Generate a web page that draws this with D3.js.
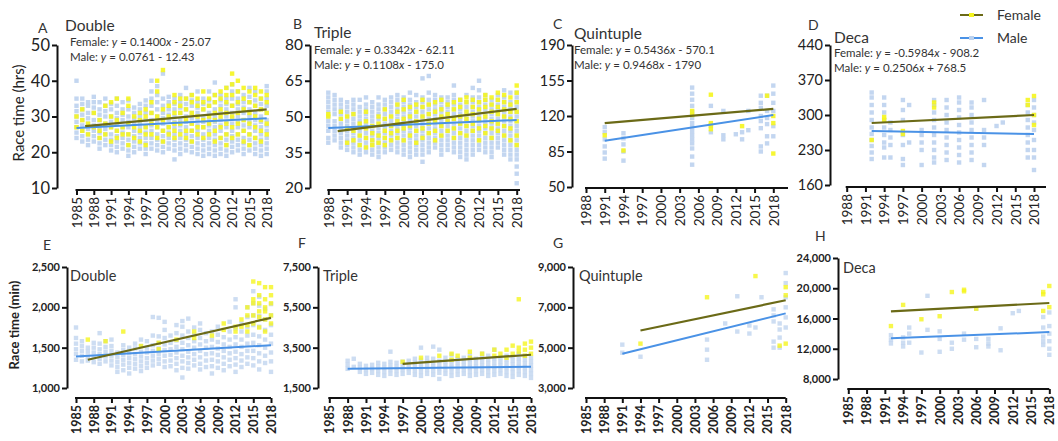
<!DOCTYPE html>
<html>
<head>
<meta charset="utf-8">
<script src="https://cdn.jsdelivr.net/npm/d3@7"></script>
<style>
  body { margin: 0; background: #fff; }
  text { font-family: Lato, "Open Sans", sans-serif; }
</style>
</head>
<body>
<svg id="chart" width="1058" height="441"></svg>
<script>

// ---- tick labels ----
var yearsFrom1985 = [1985, 1988, 1991, 1994, 1997, 2000, 2003, 2006, 2009, 2012, 2015, 2018];
var yearsFrom1988 = [1988, 1991, 1994, 1997, 2000, 2003, 2006, 2009, 2012, 2015, 2018];
var ticksDoubleHrs = [10, 20, 30, 40, 50];
var ticksTripleHrs = [20, 35, 50, 65, 80];
var ticksQuintHrs  = [50, 85, 120, 155, 190];
var ticksDecaHrs   = [160, 230, 300, 370, 440];
var ticksDoubleMin = [1000, 1500, 2000, 2500];
var ticksTripleMin = [1500, 3500, 5500, 7500];
var ticksQuintMin  = [3000, 5000, 7000, 9000];
var ticksDecaMin   = [8000, 12000, 16000, 20000, 24000];

var panelLetters = ["A", "B", "C", "D", "E", "F", "G", "H"];
var panelTitles  = ["Double", "Triple", "Quintuple", "Deca", "Double", "Triple", "Quintuple", "Deca"];
var femaleEquations = ["0.1400x - 25.07", "0.3342x - 62.11", "0.5436x - 570.1", "-0.5984x - 908.2"];
var maleEquations   = ["0.0761 - 12.43", "0.1108x - 175.0", "0.9468x - 1790", "0.2506x + 768.5"];
var seriesNames = ["Female", "Male"];

// ---- trend lines [year, value] ----
var trendDoubleHrsF = [[1986.5, 27.3], [2018, 32.0]];
var trendDoubleHrsM = [[1985, 26.8], [2018, 29.5]];
var trendTripleHrsF = [[1989.5, 43.9], [2018, 53.2]];
var trendTripleHrsM = [[1988, 45.2], [2018, 48.5]];
var trendQuintHrsF  = [[1991, 113], [2018, 127]];
var trendQuintHrsM  = [[1991, 95.5], [2018, 121]];
var trendDecaHrsF   = [[1992, 284], [2018, 300]];
var trendDecaHrsM   = [[1992, 268], [2018, 262]];
var trendDoubleMinF = [[1987, 1350], [2018, 1870]];
var trendDoubleMinM = [[1985, 1390], [2018, 1530]];
var trendTripleMinF = [[1997, 2700], [2018, 3150]];
var trendTripleMinM = [[1988, 2450], [2018, 2550]];
var trendQuintMinF  = [[1994, 5850], [2018, 7350]];
var trendQuintMinM  = [[1991, 4700], [2018, 6700]];
var trendDecaMinF   = [[1992, 16950], [2018, 18050]];
var trendDecaMinM   = [[1992, 13400], [2018, 14200]];

// ---- race times per year [year, [values]] ----
var doubleHrsMale = [
  [1985,[24,25.5,27,28.5,30,31.5,33,35,40]], [1986,[23,24.5,26,27.5,29,30.5,32,33.5,35]],
  [1987,[22,23.5,25,26.5,28,29.5,31,33,34]], [1988,[23,24.5,26,27.5,29,31,32.5,34,35.5]],
  [1989,[21,22.5,24,25.5,27,29,30.5,32,34]], [1990,[22,23.5,25,26.5,28,30,31.5,33,35]],
  [1991,[20.5,22,23.5,25,27,28.5,30,32,33.5]], [1992,[20,21.5,23,24.5,26,28,29.5,31,33,35]],
  [1993,[21,22.5,24,25.5,27,29,30.5,32,34]], [1994,[19,20.5,22,23.5,25,27,28.5,30,32,34.5]],
  [1995,[20,21.5,23,24.5,26,28,29.5,31,32.5]], [1996,[21,22.5,24,25.5,27,28.5,30,32,33.5]],
  [1997,[19.5,21,22.5,24,25.5,27,29,31,33,34.5]], [1998,[21,22.5,24,26,27.5,29,31,33,35,37,40]],
  [1999,[20.5,22,23.5,25,27,28.5,30,32,34,36,38.5]], [2000,[20,21.5,23,24.5,26,28,29.5,31,33,35,42]],
  [2001,[21,22.5,24,25.5,27,29,30.5,32,34,35.5]], [2002,[18,20.5,22,23.5,25,27,28.5,30,32,33.5,35]],
  [2003,[19.5,21,22.5,24,26,27.5,29,31,32.5,34,36]], [2004,[20.5,22,23.5,25,27,28.5,30,32,33.5,35,38]],
  [2005,[20,21.5,23,24.5,26,28,29.5,31,33,34.5,36]], [2006,[19.5,21,22.5,24,26,27.5,29,31,32.5,34,37]],
  [2007,[19,20.5,22,23.5,25,27,28.5,30,32,33.5,35]], [2008,[19.5,21,22.5,24,26,27.5,29,31,33,34.5,37]],
  [2009,[19,20.5,22,23.5,25,27,28.5,30,32,34,36,39.5]], [2010,[19.5,21,22.5,24,26,27.5,29,31,33,34.5,36]],
  [2011,[19,20.5,22,23.5,25,27,28.5,30,32,33.5,35,38]], [2012,[20,21.5,23,24.5,26,28,29.5,31,33,35,37,39]],
  [2013,[20.5,22,23.5,25,27,28.5,30,32,33.5,35,37]], [2014,[19.5,21,22.5,24,26,27.5,29,31,32.5,34,36]],
  [2015,[20.5,22,23.5,25,27,28.5,30,32,34,35.5,38]], [2016,[19.5,21,22.5,24,26,27.5,29,31,33,34.5,37]],
  [2017,[19,20.5,22,23.5,25,27,28.5,30,32,33.5,35]], [2018,[19.5,21,22.5,24,26,27.5,29,31,33,35,37,38.5]]
];
var doubleHrsFemale = [
  [1985,[27,30]], [1986,[26,29,32]], [1987,[25,28]], [1988,[27,31]], [1989,[24,26,29]],
  [1990,[25,28,33]], [1991,[23,27,30,34]], [1992,[24,26,29,35]], [1993,[25,27,31]],
  [1994,[22,25,28,33,35]], [1995,[24,27,30]], [1996,[23,26,29,31]], [1997,[22,25,27,30,32]],
  [1998,[25,28,31,34]], [1999,[24,27,30,37,40]], [2000,[23,26,29,32,43]], [2001,[25,27,30,33]],
  [2002,[24,26,28,31,34,36]], [2003,[25,28,31,33,35]], [2004,[24,26,29,32,35]],
  [2005,[23,26,28,31,34,36]], [2006,[25,27,30,33,35]], [2007,[24,27,29,32,34,37]],
  [2008,[25,28,30,33,35]], [2009,[23,26,29,31,34,36]], [2010,[24,27,30,32,35,37]],
  [2011,[22,25,28,31,34,36,38]], [2012,[24,27,30,33,36,39,42]], [2013,[25,28,31,34,37,40]],
  [2014,[23,26,29,32,35,38]], [2015,[22,25,28,31,34,37]], [2016,[24,27,30,33,36,38]],
  [2017,[23,26,29,32,35,37]], [2018,[25,28,31,34,36]]
];

var tripleHrsMale = [
  [1988,[39,41,44,46,48,50,52,54,56,58,60]], [1989,[40,42,44,46,48,51,53,55,57,59]],
  [1990,[37,39,41,43,45,47,49,51,53,55,57]], [1991,[36,38,40,42,44,46,48,50,52,54,56]],
  [1992,[35,37,39,41,43,45,47,49,51,53,55,57]], [1993,[34,36,38,40,42,44,46,48,50,52,54,57]],
  [1994,[35,37,39,41,43,45,47,49,51,53,55,58]], [1995,[34,36,38,40,42,44,46,48,50,52,54,56]],
  [1996,[33,35,37,39,41,43,45,47,49,51,53,55,58]], [1997,[35,37,39,41,43,45,47,49,51,53,55,57]],
  [1998,[36,38,40,42,44,46,48,50,52,54,56,58]], [1999,[35,37,39,41,43,45,47,49,51,53,55,57,59]],
  [2000,[34,36,38,40,42,44,46,48,50,52,54,56,58]], [2001,[33,35,37,39,41,43,45,47,49,51,53,55,57,60]],
  [2002,[34,36,38,40,42,44,46,48,50,52,54,56,59]], [2003,[31,34,36,38,40,42,44,46,48,50,52,54,56,58,66]],
  [2004,[35,37,39,41,43,45,47,49,51,53,55,57,60,67]], [2005,[37,39,41,43,45,47,49,51,53,55,57,59]],
  [2006,[34,36,38,40,42,44,46,48,50,52,54,56,58]], [2007,[36,38,40,42,44,46,48,50,52,54,56,58]],
  [2008,[35,37,39,41,43,45,47,49,51,53,55,57,59,63]], [2009,[33,35,37,39,41,43,45,47,49,51,53,55,57]],
  [2010,[32,34,36,38,40,42,44,46,48,50,52,54,56,59]], [2011,[34,36,38,40,42,44,46,48,50,52,54,56,58,62]],
  [2012,[36,38,40,42,44,46,48,50,52,54,56,58,61,65]], [2013,[35,37,39,41,43,45,47,49,51,53,55,57,59]],
  [2014,[33,35,37,39,41,43,45,47,49,51,53,55,57]], [2015,[37,39,41,43,45,47,49,51,53,55,57,59]],
  [2016,[34,36,38,40,42,44,46,48,50,52,54,56,58,61]], [2017,[32,34,36,38,40,42,44,46,48,50,52,54,56,60]],
  [2018,[22,26,29,32,34,36,38,40,42,44,46,48,50,52,54,56,58,60]]
];
var tripleHrsFemale = [
  [1988,[50,51]], [1990,[49,52]], [1991,[39,45,50]], [1992,[40,44,51]], [1993,[38,42,47]],
  [1994,[37,41,45,48,52]], [1995,[38,40,43,46]], [1996,[39,42,47,50]], [1997,[38,41,44,49,53]],
  [1998,[40,43,46,50]], [1999,[41,44,48,52,55]], [2000,[40,45,49,53,57]], [2001,[42,46,50,54]],
  [2002,[39,44,48,52,55]], [2003,[41,45,50,54,57]], [2004,[43,47,51,55]], [2005,[40,44,48,52,56]],
  [2006,[42,46,50,53,57]], [2007,[44,48,51,55]], [2008,[41,45,49,53,56]], [2009,[43,47,50,54,57]],
  [2010,[42,46,49,52,56,58]], [2011,[44,47,51,54,57]], [2012,[40,45,49,53,56]],
  [2013,[43,46,50,54,57,59]], [2014,[41,45,48,52,55,58]], [2015,[44,47,51,54,57,60]],
  [2016,[42,46,50,53,56,59]], [2017,[40,45,49,52,55,58]], [2018,[38,42,48,52,56,60,63]]
];

var quintHrsMale = [
  [1991,[78,84,90,97,104,109]], [1994,[76,85,92,98,103]],
  [2005,[72,80,88,93,97,101,105,109,113,118,124,130,136,142,148]],
  [2008,[104,110,130]], [2010,[97,101,125]], [2012,[102]], [2013,[97,104]], [2014,[106,125]],
  [2016,[85,90,108,115,120,128,133,140]], [2017,[93,100,112,118,125,140]],
  [2018,[100,110,125,133,142,150]]
];
var quintHrsFemale = [
  [1991,[101]], [1994,[86]], [2005,[121,125]], [2008,[107,111,113,141]], [2013,[110]],
  [2017,[140]], [2018,[83,113,120]]
];

var decaHrsMale = [
  [1992,[212,225,238,250,262,275,290,305,320,335,345]], [1994,[215,235,245,260,275,290,305,320,335]],
  [1995,[215,240,255,270,285]], [1997,[200,212,240,260,290,310,330]], [1998,[245,320]],
  [2000,[200,230,245,260,270]], [2002,[205,215,230,245,260,275,290,305,320,330]],
  [2004,[210,225,240,255,270,285,300,315,330]], [2006,[205,220,235,250,265,280,295,310,325,335]],
  [2008,[210,225,240,255,270,285,300,315,325]], [2010,[200,240,255,270,330]],
  [2012,[278]], [2013,[285]], [2017,[215,230,245,260,275,290,305,320]],
  [2018,[190,215,230,250,270,285,300,315,330]]
];
var decaHrsFemale = [
  [1992,[250]], [1994,[290,296]], [1997,[262,268]], [2002,[315,325]], [2017,[320,330]],
  [2018,[280,300,338]]
];

var doubleMinMale = [
  [1985,[1350,1420,1480,1550,1620,1750]], [1986,[1330,1400,1460,1520,1580]],
  [1987,[1340,1390,1450,1500]], [1988,[1320,1380,1440,1500,1560]],
  [1989,[1300,1360,1420,1480,1550,1680]], [1990,[1330,1390,1450,1510,1580]],
  [1991,[1280,1340,1400,1460,1520,1600]], [1992,[1200,1260,1320,1380,1440]],
  [1993,[1220,1290,1350,1410,1470,1530]], [1994,[1180,1250,1310,1370,1430,1500]],
  [1995,[1240,1300,1360,1420,1490,1550]], [1996,[1210,1270,1330,1390,1450,1520,1600]],
  [1997,[1250,1310,1370,1440,1500,1580]], [1998,[1280,1340,1400,1460,1530,1650,1880]],
  [1999,[1300,1360,1420,1490,1560,1640,1870]], [2000,[1260,1330,1400,1470,1540,1620,1720,1820]],
  [2001,[1270,1340,1410,1480,1560,1650]], [2002,[1220,1300,1370,1440,1510,1590,1680,1780]],
  [2003,[1130,1250,1330,1400,1480,1560,1650,1760,1830]], [2004,[1240,1310,1380,1450,1530,1620,1700,1860]],
  [2005,[1280,1350,1420,1500,1580,1660,1750]], [2006,[1230,1300,1380,1460,1540,1620,1720,1800]],
  [2007,[1260,1340,1420,1500,1580,1680]], [2008,[1180,1270,1350,1430,1510,1600,1700]],
  [2009,[1250,1330,1410,1490,1570,1660,1760]], [2010,[1220,1300,1380,1460,1540,1630]],
  [2011,[1270,1350,1430,1510,1600,1700,1820]], [2012,[1200,1290,1370,1450,1540,1630,1740,2000,2100]],
  [2013,[1260,1340,1420,1510,1600,1700,1800]], [2014,[1300,1380,1460,1550,1650,1760,1880,2000]],
  [2015,[1280,1370,1460,1560,1660,1780,1900,2050,2200]], [2016,[1230,1330,1430,1530,1640,1760,1890,2020,2130]],
  [2017,[1310,1400,1500,1600,1720,1850,1980]], [2018,[1200,1330,1440,1550,1660,1780,1900,2040]]
];
var doubleMinFemale = [
  [1987,[1600]], [1990,[1580]], [1993,[1700]], [1996,[1520]], [1999,[1480,1560]], [2002,[1600]],
  [2005,[1620,1700]], [2008,[1650]], [2010,[1720,1800]], [2012,[1700,1760]], [2013,[1760,1850]],
  [2014,[1700,1780,1900,2000]], [2015,[1800,1900,2050,2100,2320]],
  [2016,[1750,1880,1950,2050,2150,2300]], [2017,[1700,1850,1950,2000,2100,2250]],
  [2018,[1800,1900,2050,2150,2250]]
];

var tripleMinMale = [
  [1988,[2450,2650,2850]], [1989,[2550,2950]], [1990,[2300,2500,2700]], [1991,[2200,2400,2600]],
  [1992,[2250,2450,2650]], [1993,[2150,2350,2550,2750]], [1994,[2100,2300,2500,2700]],
  [1995,[2200,2400,2600,2800,3300]], [1996,[2150,2350,2550,2750]], [1997,[2200,2400,2600,2800]],
  [1998,[2250,2450,2650,2850]], [1999,[2150,2350,2550,2750,2950]], [2000,[2100,2300,2500,2700,2900,3500]],
  [2001,[2200,2400,2600,2800,3000]], [2002,[2150,2350,2550,2750,2950,3550]],
  [2003,[1950,2250,2450,2650,2850,3400]], [2004,[2200,2400,2600,2800,3000]],
  [2005,[2100,2300,2500,2700,2900,3150]], [2006,[2150,2350,2550,2750,2950]],
  [2007,[2200,2400,2600,2800,3000]], [2008,[2100,2300,2500,2700,2900,3100]],
  [2009,[2150,2350,2550,2750,2950]], [2010,[2200,2400,2600,2800,3000,3200]],
  [2011,[2100,2300,2500,2700,2900,3100]], [2012,[2150,2350,2550,2750,2950,3400]],
  [2013,[2200,2400,2600,2800,3000]], [2014,[2100,2300,2500,2700,2900,3100]],
  [2015,[2050,2250,2450,2650,2850,3050]], [2016,[2150,2350,2550,2750,2950,3200]],
  [2017,[2100,2300,2500,2700,2900,3100]], [2018,[2000,2200,2400,2600,2800,3000]]
];
var tripleMinFemale = [
  [1997,[2800]], [2000,[3000]], [2003,[3100]], [2005,[2900,3200]], [2006,[3100]],
  [2008,[3000,3300]], [2010,[3200]], [2012,[3100,3400]], [2013,[3200]], [2014,[3000,3400]],
  [2015,[3200,3600]], [2016,[3300,3500,5900]], [2017,[3100,3400,3700]], [2018,[3200,3500,3800]]
];

var quintMinMale = [
  [1991,[4750,5150]], [1994,[4550]], [2005,[4400,4900,5400]], [2008,[6200]], [2010,[5800,7550]],
  [2012,[5700,6100]], [2013,[6000]], [2014,[7500]], [2016,[5000,5300,6300,6600,6900]],
  [2017,[5000,5500,5900,6200]], [2018,[6000,6500,7000,7500,8200,8700]]
];
var quintMinFemale = [
  [1994,[5200]], [2005,[7500]], [2013,[8550]], [2017,[5100]], [2018,[5200,7600,8000]]
];

var decaMinMale = [
  [1992,[12700,13200,13800]], [1994,[12300,12800,13500]], [1995,[12800,14000,14800]],
  [1997,[11500]], [1998,[14500,19000]], [2000,[11600,13300,14300]], [2002,[12000,12800]],
  [2004,[13200,14000]], [2006,[12200,13300,17300]], [2008,[12300,12700,13300]],
  [2010,[11800,14700]], [2012,[16700]], [2013,[17000]],
  [2017,[12500,13000,13600,14800,16200]], [2018,[11200,12000,13000,14000,15000,16800]]
];
var decaMinFemale = [
  [1992,[15000]], [1994,[17800]], [1997,[15900]], [2000,[16300]], [2002,[19500]],
  [2004,[19600,19800]], [2006,[17300]], [2017,[17000,19200,19500]], [2018,[17500,20300]]
];

// ---- drawing ----
var maleDot = "#bcd2ee", femaleDot = "#f5f51e";
var maleLine = "#4a92e6", femaleLine = "#6b6a17";

var svg = d3.select("#chart");

var panels = [
  {male: doubleHrsMale, female: doubleHrsFemale, tf: trendDoubleHrsF, tm: trendDoubleHrsM,
   xt: yearsFrom1985, yt: ticksDoubleHrs, x0: 76.5, x1: 266.7, xEnd: 270, ax: 57, yTop: 45, yBot: 188, axY: 190,
   yFont: 16.5, letter: [38, 33], title: [65, 31], eq: [70, 46, 61], tFont: 15.5},
  {male: tripleHrsMale, female: tripleHrsFemale, tf: trendTripleHrsF, tm: trendTripleHrsM,
   xt: yearsFrom1988, yt: ticksTripleHrs, x0: 328.3, x1: 516.7, xEnd: 520, ax: 310, yTop: 45, yBot: 188, axY: 190,
   yFont: 15.5, letter: [293, 29], title: [314, 38], eq: [314, 54, 69], tFont: 15.5},
  {male: quintHrsMale, female: quintHrsFemale, tf: trendQuintHrsF, tm: trendQuintHrsM,
   xt: yearsFrom1988, yt: ticksQuintHrs, x0: 586, x1: 773.3, xEnd: 788, ax: 572, yTop: 45, yBot: 187, axY: 188,
   yFont: 14.5, letter: [553, 29], title: [574, 39], eq: [574, 54, 69], tFont: 15.5},
  {male: decaHrsMale, female: decaHrsFemale, tf: trendDecaHrsF, tm: trendDecaHrsM,
   xt: yearsFrom1988, yt: ticksDecaHrs, x0: 846.7, x1: 1034, xEnd: 1046, ax: 830, yTop: 45, yBot: 185, axY: 187,
   yFont: 14.5, letter: [808, 30], title: [834, 43], eq: [834, 57, 72], tFont: 15.5},
  {male: doubleMinMale, female: doubleMinFemale, tf: trendDoubleMinF, tm: trendDoubleMinM,
   xt: yearsFrom1985, yt: ticksDoubleMin, x0: 76, x1: 271, xEnd: 271, ax: 67, yTop: 267, yBot: 388, axY: 398,
   yFont: 11, letter: [43, 250], title: [70, 281], tFont: 14.5, bottom: true},
  {male: tripleMinMale, female: tripleMinFemale, tf: trendTripleMinF, tm: trendTripleMinM,
   xt: yearsFrom1985, yt: ticksTripleMin, x0: 329.3, x1: 531, xEnd: 531, ax: 318, yTop: 267, yBot: 388, axY: 398,
   yFont: 11, letter: [298, 248], title: [323, 281], tFont: 14.5, bottom: true},
  {male: quintMinMale, female: quintMinFemale, tf: trendQuintMinF, tm: trendQuintMinM,
   xt: yearsFrom1985, yt: ticksQuintMin, x0: 586, x1: 785.7, xEnd: 785.7, ax: 573, yTop: 267, yBot: 388, axY: 398,
   yFont: 11, letter: [553, 248], title: [579, 281], tFont: 14.5, bottom: true},
  {male: decaMinMale, female: decaMinFemale, tf: trendDecaMinF, tm: trendDecaMinM,
   xt: yearsFrom1985, yt: ticksDecaMin, x0: 848.3, x1: 1049.3, xEnd: 1049.3, ax: 838, yTop: 258, yBot: 379, axY: 389,
   yFont: 11, letter: [815, 241], title: [843, 273], tFont: 14.5, bottom: true}
];

function flat(arr) {
  return arr.flatMap(function(d) { return d[1].map(function(v) { return {yr: d[0], v: v}; }); });
}

panels.forEach(function(p, i) {
  var x = d3.scaleLinear().domain([p.xt[0], p.xt[p.xt.length - 1]]).range([p.x0, p.x1]);
  var y = d3.scaleLinear().domain([p.yt[0], p.yt[p.yt.length - 1]]).range([p.yBot, p.yTop]);
  var g = svg.append("g");
  var s = 4.4;

  //dots, male under female
  g.selectAll(".m").data(flat(p.male)).enter().append("rect")
    .attr("x", function(d) { return x(d.yr) - s / 2; })
    .attr("y", function(d) { return y(d.v) - s / 2; })
    .attr("width", s).attr("height", s)
    .attr("fill", maleDot).attr("opacity", p.bottom ? 0.75 : 0.9);
  g.selectAll(".f").data(flat(p.female)).enter().append("rect")
    .attr("x", function(d) { return x(d.yr) - s / 2; })
    .attr("y", function(d) { return y(d.v) - s / 2; })
    .attr("width", s).attr("height", s)
    .attr("fill", femaleDot).attr("opacity", p.bottom ? 0.8 : 0.9);

  var line = d3.line().x(function(d) { return x(d[0]); }).y(function(d) { return y(d[1]); });
  g.append("path").attr("d", line(p.tm)).attr("stroke", maleLine).attr("stroke-width", 2).attr("fill", "none");
  g.append("path").attr("d", line(p.tf)).attr("stroke", femaleLine).attr("stroke-width", 2.2).attr("fill", "none");

  // y axis
  var yAxis = d3.axisLeft(y).tickValues(p.yt).tickSize(5).tickSizeOuter(0)
    .tickFormat(p.bottom ? d3.format(",") : d3.format("d"));
  var ya = g.append("g").attr("transform", "translate(" + p.ax + ",0)").call(yAxis);
  ya.select(".domain").attr("stroke-width", 2).attr("stroke", "#111");
  ya.selectAll(".tick line").attr("stroke-width", 2).attr("stroke", "#111");
  ya.selectAll(".tick text").attr("font-size", p.yFont).attr("fill", "#222").attr("x", -7)
    .attr("font-weight", p.bottom ? "bold" : "normal").style("font-family", "Lato, sans-serif");

  // x axis
  var xAxis = d3.axisBottom(x).tickValues(p.xt).tickSize(5).tickSizeOuter(0).tickFormat(d3.format("d"));
  var xa = g.append("g").attr("transform", "translate(0," + p.axY + ")").call(xAxis);
  xa.select(".domain").remove();
  xa.append("line").attr("x1", p.x0 - 1).attr("x2", p.xEnd).attr("y1", 0).attr("y2", 0)
    .attr("stroke", "#111").attr("stroke-width", 2);
  xa.selectAll(".tick line").attr("stroke-width", 2).attr("stroke", "#111");
  xa.selectAll(".tick text")
    .attr("transform", "rotate(-90)").attr("text-anchor", "end")
    .attr("x", -7).attr("y", 0).attr("dy", "0.35em")
    .attr("font-size", p.bottom ? 12.5 : 13.5).attr("fill", "#222")
    .attr("font-weight", p.bottom ? "bold" : "normal").style("font-family", "Lato, sans-serif");

  // labels
  svg.append("text").attr("x", p.letter[0]).attr("y", p.letter[1])
    .attr("font-size", 14).attr("fill", "#333").text(panelLetters[i]);
  svg.append("text").attr("x", p.title[0]).attr("y", p.title[1])
    .attr("font-size", p.tFont).attr("fill", "#333").text(panelTitles[i]);

  if (!p.bottom) {
    [["Female", femaleEquations[i], p.eq[1]], ["Male", maleEquations[i], p.eq[2]]].forEach(function(e) {
      var t = svg.append("text").attr("x", p.eq[0]).attr("y", e[2]).attr("font-size", 11.5).attr("fill", "#333");
      t.append("tspan").text(e[0] + ": ");
      t.append("tspan").attr("font-style", "italic").text("y");
      var rest = e[1];
      var m = rest.match(/^(-?[\d.]+)(x?)(.*)$/);
      t.append("tspan").text(" = " + m[1]);
      if (m[2]) t.append("tspan").attr("font-style", "italic").text("x");
      t.append("tspan").text(m[3]);
    });
  }
});

// y axis titles
svg.append("text").attr("transform", "translate(24,113) rotate(-90)").attr("text-anchor", "middle")
  .attr("font-size", 15).attr("fill", "#222").text("Race time (hrs)");
svg.append("text").attr("transform", "translate(19,325) rotate(-90)").attr("text-anchor", "middle")
  .attr("font-size", 13).attr("font-weight", "bold").attr("fill", "#222").text("Race time (min)");

// legend
var legend = svg.append("g");
[[femaleLine, femaleDot, 15], [maleLine, maleDot, 38]].forEach(function(l, i) {
  legend.append("line").attr("x1", 960).attr("x2", 983).attr("y1", l[2]).attr("y2", l[2])
    .attr("stroke", l[0]).attr("stroke-width", 2).attr("stroke-dasharray", "9 5");
  legend.append("rect").attr("x", 969).attr("y", l[2] - 2).attr("width", 5).attr("height", 4).attr("fill", l[1]);
  legend.append("text").attr("x", 997).attr("y", l[2] + 5).attr("font-size", 14).attr("fill", "#333")
    .text(seriesNames[i]);
});

</script>
</body>
</html>
